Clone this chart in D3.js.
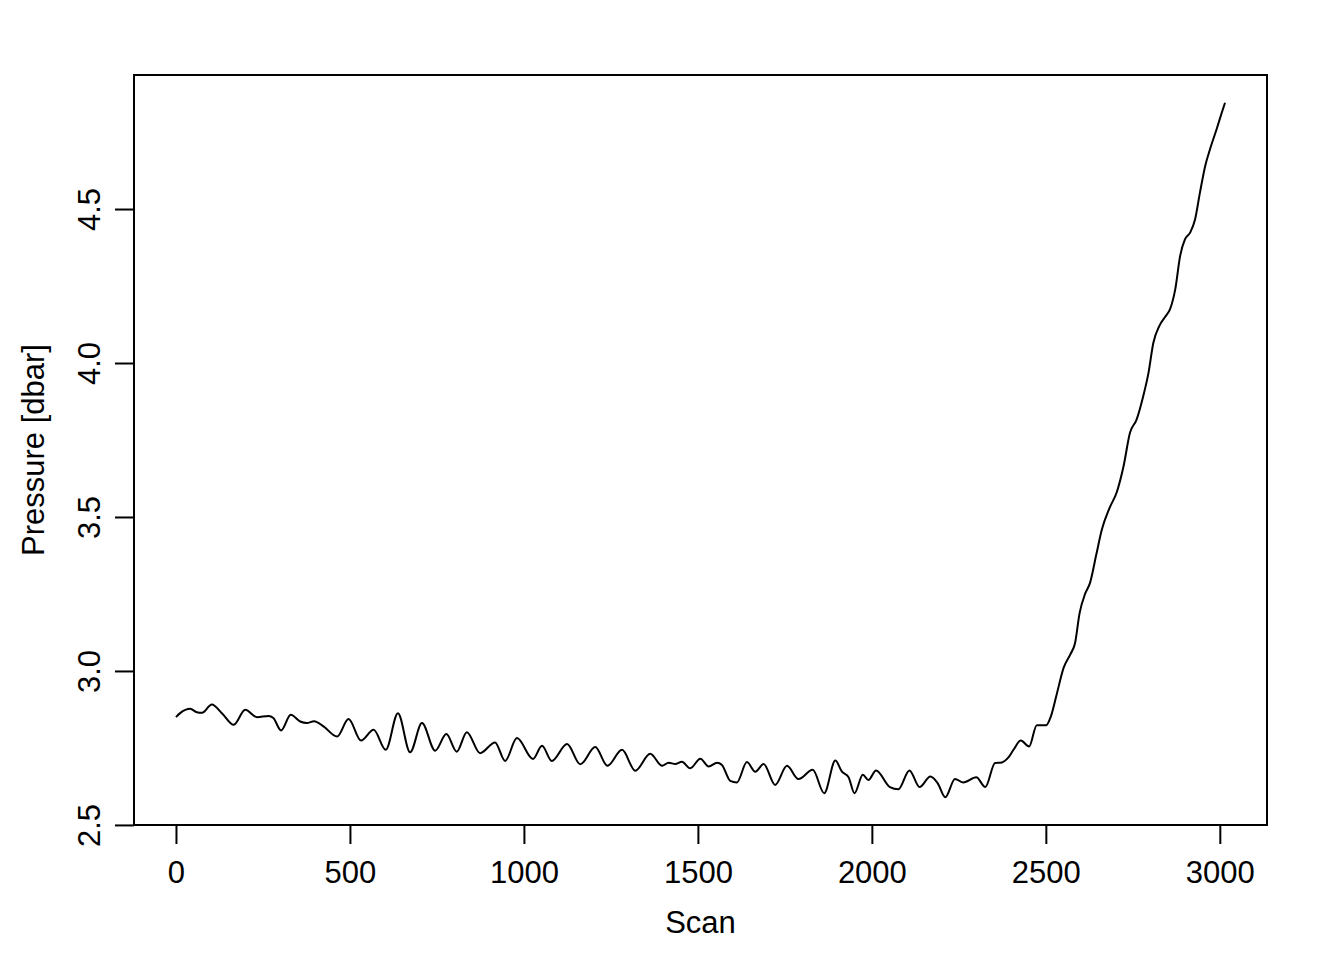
<!DOCTYPE html>
<html><head><meta charset="utf-8">
<script src="https://cdn.jsdelivr.net/npm/d3@7"></script>
<style>body{margin:0;background:#fff}svg{display:block}</style>
</head><body>
<svg id="chart" width="1344" height="960"></svg>
<script>
const scan = [0,12,41,60,75,103,132,166,199,233,266,280,302,330,357,376,397,424,463,496,532,568,603,638,673,707,745,777,807,836,874,917,946,980,1026,1052,1080,1124,1162,1205,1240,1282,1320,1363,1397,1416,1435,1454,1478,1507,1531,1555,1569,1593,1612,1641,1665,1689,1722,1756,1789,1830,1863,1895,1914,1933,1950,1974,1990,2012,2052,2076,2108,2137,2168,2189,2211,2239,2263,2300,2326,2354,2373,2393,2407,2428,2452,2474,2501,2514,2532,2551,2570,2584,2597,2613,2627,2645,2661,2683,2704,2723,2742,2761,2780,2795,2809,2826,2843,2857,2872,2886,2900,2915,2929,2943,2958,2972,2991,3006,3015];
const pressure = [2.850,2.863,2.877,2.866,2.864,2.891,2.863,2.825,2.874,2.850,2.854,2.847,2.807,2.858,2.836,2.831,2.837,2.820,2.787,2.844,2.774,2.809,2.744,2.863,2.736,2.831,2.741,2.795,2.738,2.801,2.733,2.768,2.708,2.782,2.714,2.757,2.708,2.763,2.697,2.753,2.692,2.744,2.676,2.731,2.692,2.702,2.698,2.705,2.684,2.715,2.690,2.702,2.695,2.643,2.638,2.704,2.673,2.698,2.630,2.692,2.649,2.679,2.603,2.709,2.673,2.655,2.603,2.663,2.646,2.677,2.623,2.616,2.677,2.623,2.657,2.636,2.590,2.649,2.638,2.655,2.623,2.701,2.703,2.720,2.744,2.774,2.755,2.824,2.824,2.851,2.928,3.010,3.053,3.091,3.188,3.251,3.286,3.378,3.459,3.529,3.581,3.663,3.774,3.817,3.893,3.968,4.066,4.120,4.150,4.175,4.240,4.348,4.402,4.424,4.467,4.554,4.640,4.695,4.760,4.814,4.845];
const xTicks = [0,500,1000,1500,2000,2500,3000];
const yTicks = [2.5,3.0,3.5,4.0,4.5];
const xLabel = "Scan";
const yLabel = "Pressure [dbar]";

const L = 134, R = 1267, T = 75, B = 825;
const svg = d3.select("#chart");
const font = "'Liberation Sans', Arial, Helvetica, sans-serif";
const fs = 31;

function padExt(arr){ const [a,b] = d3.extent(arr); const r = b - a; return [a - 0.04*r, b + 0.04*r]; }
const x = d3.scaleLinear().domain(padExt(scan)).range([L, R]);
const y = d3.scaleLinear().domain(padExt(pressure)).range([B, T]);

const data = scan.map((s,i)=>({s, p: pressure[i]}));
const line = d3.line().x(d=>x(d.s)).y(d=>y(d.p)).curve(d3.curveMonotoneX);
svg.append("path").datum(data).attr("d", line)
  .attr("fill","none").attr("stroke","#000").attr("stroke-width",2).attr("stroke-linejoin","round");

svg.append("rect").attr("x",L).attr("y",T).attr("width",R-L).attr("height",B-T)
  .attr("fill","none").attr("stroke","#000").attr("stroke-width",2);

const tick = 19;
const xa = svg.append("g").attr("transform",`translate(0,${B})`)
  .call(d3.axisBottom(x).tickValues(xTicks).tickSize(tick).tickPadding(17).tickFormat(d3.format("d")));
const ya = svg.append("g").attr("transform",`translate(${L},0)`)
  .call(d3.axisLeft(y).tickValues(yTicks).tickSize(tick).tickFormat(d3.format(".1f")));
[xa, ya].forEach(g=>{
  g.select(".domain").attr("stroke","#000").attr("stroke-width",2)
   .attr("d", null);
  g.selectAll(".tick line").attr("stroke","#000").attr("stroke-width",2);
  g.selectAll("text").attr("fill","#000").style("font-family",font).style("font-size",fs+"px");
});
xa.select(".domain").attr("d", `M${x(xTicks[0])},0H${x(xTicks[xTicks.length-1])}`);
ya.select(".domain").attr("d", `M0,${y(yTicks[0])}V${y(yTicks[yTicks.length-1])}`);
ya.selectAll(".tick text").attr("x",null).attr("dy",null)
  .attr("text-anchor","middle")
  .attr("transform","translate(-45,0) rotate(-90)")
  .attr("dominant-baseline","central");

svg.append("text").attr("x",(L+R)/2).attr("y",933).attr("text-anchor","middle")
  .style("font-family",font).style("font-size",fs+"px").text(xLabel);
svg.append("text").attr("transform",`translate(33,${(T+B)/2}) rotate(-90)`)
  .attr("text-anchor","middle").attr("dominant-baseline","central")
  .style("font-family",font).style("font-size",fs+"px").text(yLabel);
</script>
</body></html>
